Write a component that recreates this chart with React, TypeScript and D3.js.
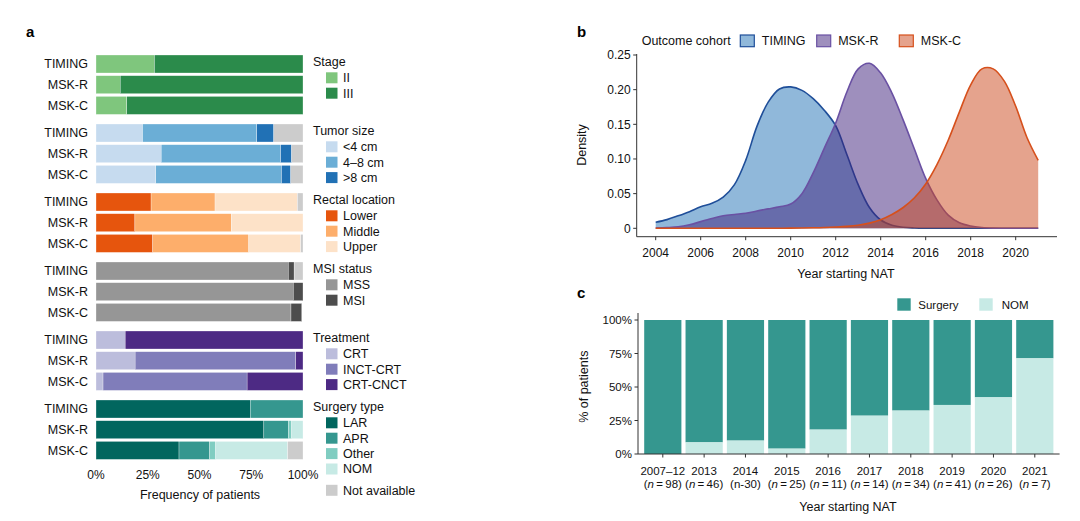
import React from "react";
import * as d3 from "d3";

// ---------- Panel a data ----------
const cohorts = ["TIMING", "MSK-R", "MSK-C"];

const stageKeys = ["II", "III"];
const stageValues = [
  [28.2, 71.8],
  [11.7, 88.3],
  [14.9, 85.1],
];

const tumorKeys = ["<4 cm", "4–8 cm", ">8 cm", "NA"];
const tumorValues = [
  [22.5, 55.2, 8.2, 14.1],
  [31.5, 57.7, 5.3, 5.5],
  [28.9, 60.7, 4.5, 5.9],
];

const rectalKeys = ["Lower", "Middle", "Upper", "NA"];
const rectalValues = [
  [26.6, 30.9, 39.8, 2.7],
  [18.8, 46.5, 34.7, 0],
  [27.4, 46.4, 25.1, 1.1],
];

const msiKeys = ["MSS", "MSI", "NA"];
const msiValues = [
  [92.9, 2.8, 4.3],
  [95.3, 4.7, 0],
  [94.2, 5.2, 0],
];

const treatmentKeys = ["CRT", "INCT-CRT", "CRT-CNCT"];
const treatmentValues = [
  [14.1, 0, 85.9],
  [18.9, 77.6, 3.5],
  [3.4, 69.6, 27.0],
];

const surgeryKeys = ["LAR", "APR", "Other", "NOM", "NA"];
const surgeryValues = [
  [74.5, 25.5, 0, 0, 0],
  [81.1, 11.8, 1.6, 5.5, 0],
  [40.1, 14.8, 2.9, 34.8, 7.4],
];

const groupTitles = ["Stage", "Tumor size", "Rectal location", "MSI status", "Treatment", "Surgery type"];
const freqTicks = [0, 25, 50, 75, 100];

// ---------- Panel b data ----------
const densityYears = [
  2004, 2004.5, 2005, 2005.5, 2006, 2006.5, 2007, 2007.5, 2008, 2008.5, 2009, 2009.5,
  2010, 2010.5, 2011, 2011.5, 2012, 2012.5, 2013, 2013.5, 2014, 2014.5, 2015, 2015.5,
  2016, 2016.5, 2017, 2017.5, 2018, 2018.5, 2019, 2019.5, 2020, 2020.5, 2021,
];
const timingDensity = [
  0.0087, 0.0125, 0.018, 0.024, 0.031, 0.036, 0.045, 0.063, 0.098, 0.147, 0.182, 0.201,
  0.204, 0.199, 0.187, 0.17, 0.148, 0.106, 0.063, 0.03, 0.012, 0.0045, 0.0015, 0.0005,
  0.0001, 0, 0, 0, 0, 0, 0, 0, 0, 0, 0,
];
const mskrDensity = [
  0.0005, 0.001, 0.002, 0.005, 0.0096, 0.014, 0.018, 0.02, 0.0216, 0.025, 0.028, 0.031,
  0.035, 0.05, 0.08, 0.116, 0.152, 0.197, 0.23, 0.238, 0.224, 0.195, 0.156, 0.114,
  0.072, 0.041, 0.019, 0.008, 0.0033, 0.0012, 0.0003, 0, 0, 0, 0,
];
const mskcDensity = [
  0, 0, 0, 0, 0, 0, 0, 0, 0, 0, 0, 0.0001,
  0.0002, 0.0004, 0.0007, 0.0011, 0.0018, 0.0028, 0.0045, 0.0075, 0.0125, 0.02, 0.03, 0.044,
  0.064, 0.092, 0.127, 0.168, 0.207, 0.23, 0.23, 0.212, 0.176, 0.131, 0.098,
];
const yearTicks = [2004, 2006, 2008, 2010, 2012, 2014, 2016, 2018, 2020];
const densityTicks = [0, 0.05, 0.1, 0.15, 0.2, 0.25];

// ---------- Panel c data ----------
const periodLabels = ["2007–12", "2013", "2014", "2015", "2016", "2017", "2018", "2019", "2020", "2021"];
const periodN = ["98", "46", "30", "25", "11", "14", "34", "41", "26", "7"];
const nomPct = [0, 8.7, 10.0, 4.0, 18.2, 28.6, 32.4, 36.6, 42.3, 71.4];
const surgeryPct = [100, 91.3, 90.0, 96.0, 81.8, 71.4, 67.6, 63.4, 57.7, 28.6];
const pctTicks = [0, 25, 50, 75, 100];

// ---------- Styles ----------
const NA_COLOR = "#cccccc";
const palette: Record<string, string> = {
  II: "#7fc67d",
  III: "#2b8b4b",
  "<4 cm": "#c6dbef",
  "4–8 cm": "#6baed6",
  ">8 cm": "#2171b5",
  Lower: "#e6550d",
  Middle: "#fdae6b",
  Upper: "#fde2c8",
  MSS: "#969696",
  MSI: "#4d4d4d",
  CRT: "#bcbddc",
  "INCT-CRT": "#807dba",
  "CRT-CNCT": "#4d2a84",
  LAR: "#01665e",
  APR: "#35978f",
  Other: "#80cdc1",
  NOM: "#c7eae5",
  NA: NA_COLOR,
};
const cohortFill = ["#2171b5", "#3d1f7b", "#cb471b"];
const cohortLine = ["#1f4e99", "#6a51a3", "#d6501c"];
const surgeryC = "#35978f";
const nomC = "#c7eae5";
const AXIS = "#333333";
const TXT = "#111111";
const FONT = "'Liberation Sans', Arial, Helvetica, sans-serif";
const THIN = "\u2009";

const groupKeys = [stageKeys, tumorKeys, rectalKeys, msiKeys, treatmentKeys, surgeryKeys];
const groupValues = [stageValues, tumorValues, rectalValues, msiValues, treatmentValues, surgeryValues];

function PanelA() {
  const x = d3.scaleLinear().domain([0, 100]).range([96, 303]);
  const groupTop = (g: number) => 55 + g * 69;
  const rowStep = 20.7;
  const barH = 18;
  const fs = 12.5;
  const elems: React.ReactNode[] = [];

  groupKeys.forEach((keys, gi) => {
    const rows = groupValues[gi].map((vals, ri) => {
      const o: any = { cohort: cohorts[ri] };
      keys.forEach((k, ki) => (o[k] = vals[ki]));
      return o;
    });
    const series = d3.stack<any>().keys(keys)(rows);
    series.forEach((s) => {
      s.forEach((d, ri) => {
        const w = x(d[1]) - x(d[0]);
        if (w <= 0) return;
        elems.push(
          <rect
            key={`a-${gi}-${s.key}-${ri}`}
            x={x(d[0])}
            y={groupTop(gi) + ri * rowStep}
            width={w}
            height={barH}
            fill={palette[s.key]}
            stroke="#ffffff"
            strokeWidth={0.3}
          />
        );
      });
    });
    cohorts.forEach((c, ri) => {
      elems.push(
        <text
          key={`al-${gi}-${ri}`}
          x={88}
          y={groupTop(gi) + ri * rowStep + barH / 2}
          dy="0.35em"
          textAnchor="end"
          fontSize={fs}
          fill={TXT}
        >
          {c}
        </text>
      );
    });
    const ty = groupTop(gi) + 6.5;
    elems.push(
      <text key={`lt-${gi}`} x={313} y={ty} dy="0.35em" fontSize={fs} fill={TXT}>
        {groupTitles[gi]}
      </text>
    );
    keys
      .filter((k) => k !== "NA")
      .forEach((k, ki) => {
        const cy = ty + 16.3 + ki * 15.4;
        elems.push(
          <g key={`li-${gi}-${k}`}>
            <rect x={326} y={cy - 5.5} width={11.5} height={11} fill={palette[k]} />
            <text x={343} y={cy} dy="0.35em" fontSize={fs} fill={TXT}>
              {k}
            </text>
          </g>
        );
      });
  });
  elems.push(
    <g key="na-leg">
      <rect x={326} y={490.3 - 5.5} width={11.5} height={11} fill={NA_COLOR} />
      <text x={343} y={490.3} dy="0.35em" fontSize={fs} fill={TXT}>
        Not available
      </text>
    </g>
  );
  freqTicks.forEach((t) => {
    elems.push(
      <text key={`ft-${t}`} x={x(t)} y={475} dy="0.35em" textAnchor="middle" fontSize={12} fill={TXT}>
        {t}%
      </text>
    );
  });
  elems.push(
    <text key="ftitle" x={200} y={495} dy="0.35em" textAnchor="middle" fontSize={12.5} fill={TXT}>
      Frequency of patients
    </text>
  );
  elems.push(
    <text key="alab" x={26} y={37} fontSize={15} fontWeight="bold" fill="#000">
      a
    </text>
  );
  return <g>{elems}</g>;
}

function PanelB() {
  const x = d3.scaleLinear().domain([2004, 2021]).range([655.7, 1038.2]);
  const y = d3.scaleLinear().domain([0, 0.25]).range([228.3, 55]);
  const axisX0 = 636.7;
  const axisY = 236.7;
  const series = [timingDensity, mskrDensity, mskcDensity];
  const names = ["TIMING", "MSK-R", "MSK-C"];
  const area = d3
    .area<number>()
    .x((_, i) => x(densityYears[i]))
    .y0(y(0))
    .y1((d) => y(d))
    .curve(d3.curveCatmullRom);
  const line = d3
    .line<number>()
    .x((_, i) => x(densityYears[i]))
    .y((d) => y(d))
    .curve(d3.curveCatmullRom);
  const legX = [740.3, 816.7, 899.3];
  return (
    <g>
      {series.map((s, i) => (
        <g key={`dens-${i}`}>
          <path d={area(s) || ""} fill={cohortFill[i]} fillOpacity={0.5} />
          <path d={line(s) || ""} fill="none" stroke={cohortLine[i]} strokeWidth={1.6} />
        </g>
      ))}
      <line x1={axisX0} x2={axisX0} y1={54} y2={axisY} stroke={AXIS} strokeWidth={1} />
      <line x1={axisX0} x2={1057} y1={axisY} y2={axisY} stroke={AXIS} strokeWidth={1} />
      {densityTicks.map((t) => (
        <g key={`dy-${t}`}>
          <line x1={axisX0 - 3.5} x2={axisX0} y1={y(t)} y2={y(t)} stroke={AXIS} />
          <text x={axisX0 - 6} y={y(t)} dy="0.35em" textAnchor="end" fontSize={12} fill={TXT}>
            {t === 0 ? "0" : d3.format(".2f")(t)}
          </text>
        </g>
      ))}
      {yearTicks.map((t) => (
        <g key={`dx-${t}`}>
          <line x1={x(t)} x2={x(t)} y1={axisY} y2={axisY + 3.5} stroke={AXIS} />
          <text x={x(t)} y={253} dy="0.35em" textAnchor="middle" fontSize={12} fill={TXT}>
            {t}
          </text>
        </g>
      ))}
      <text x={846} y={274} dy="0.35em" textAnchor="middle" fontSize={12.5} fill={TXT}>
        Year starting NAT
      </text>
      <text
        transform={`translate(582,145) rotate(-90)`}
        dy="0.35em"
        textAnchor="middle"
        fontSize={12.5}
        fill={TXT}
      >
        Density
      </text>
      <text x={641.7} y={40.7} dy="0.35em" fontSize={12.5} fill={TXT}>
        Outcome cohort
      </text>
      {names.map((n, i) => (
        <g key={`bl-${i}`}>
          <rect x={legX[i]} y={35} width={14} height={11.7} fill="#ffffff" />
          <rect
            x={legX[i]}
            y={35}
            width={14}
            height={11.7}
            fill={cohortFill[i]}
            fillOpacity={0.5}
            stroke={cohortLine[i]}
            strokeWidth={1.2}
          />
          <text x={legX[i] + 21.5} y={40.7} dy="0.35em" fontSize={12.5} fill={TXT}>
            {n}
          </text>
        </g>
      ))}
      <text x={577} y={37} fontSize={15} fontWeight="bold" fill="#000">
        b
      </text>
    </g>
  );
}

function PanelC() {
  const x = d3
    .scaleBand<string>()
    .domain(periodLabels)
    .range([638, 1059.6])
    .paddingInner(0.1)
    .paddingOuter(0.15);
  const y = d3.scaleLinear().domain([0, 100]).range([454, 320]);
  const axisX0 = 638;
  const axisY = 454;
  return (
    <g>
      {periodLabels.map((p, i) => (
        <g key={`cb-${p}`}>
          <rect
            x={x(p)!}
            y={y(nomPct[i] + surgeryPct[i])}
            width={x.bandwidth()}
            height={y(nomPct[i]) - y(nomPct[i] + surgeryPct[i])}
            fill={surgeryC}
          />
          {nomPct[i] > 0 && (
            <rect
              x={x(p)!}
              y={y(nomPct[i])}
              width={x.bandwidth()}
              height={y(0) - y(nomPct[i])}
              fill={nomC}
            />
          )}
        </g>
      ))}
      <line x1={axisX0} x2={axisX0} y1={313} y2={axisY} stroke={AXIS} />
      <line x1={axisX0} x2={1059.6} y1={axisY} y2={axisY} stroke={AXIS} />
      {pctTicks.map((t) => (
        <g key={`cy-${t}`}>
          <line x1={axisX0 - 3.5} x2={axisX0} y1={y(t)} y2={y(t)} stroke={AXIS} />
          <text x={axisX0 - 6} y={y(t)} dy="0.35em" textAnchor="end" fontSize={11.5} fill={TXT}>
            {t}%
          </text>
        </g>
      ))}
      {periodLabels.map((p, i) => {
        const cx = x(p)! + x.bandwidth() / 2;
        return (
          <g key={`cx-${p}`}>
            <line x1={cx} x2={cx} y1={axisY} y2={axisY + 3.5} stroke={AXIS} />
            <text x={cx} y={470.7} dy="0.35em" textAnchor="middle" fontSize={11.5} fill={TXT}>
              {p}
            </text>
            <text x={cx} y={483.5} dy="0.35em" textAnchor="middle" fontSize={11.5} fill={TXT}>
              {p === "2014" ? (
                <>({"n-" + periodN[i]})</>
              ) : (
                <>
                  (<tspan fontStyle="italic">n</tspan>
                  {THIN + "=" + THIN + periodN[i] + ")"}
                </>
              )}
            </text>
          </g>
        );
      })}
      <text x={848} y={506.7} dy="0.35em" textAnchor="middle" fontSize={12.5} fill={TXT}>
        Year starting NAT
      </text>
      <text
        transform={`translate(584,386.7) rotate(-90)`}
        dy="0.35em"
        textAnchor="middle"
        fontSize={12.5}
        fill={TXT}
      >
        % of patients
      </text>
      <rect x={897.3} y={298.3} width={13.4} height={12.4} fill={surgeryC} />
      <text x={918.3} y={305} dy="0.35em" fontSize={11.5} fill={TXT}>
        Surgery
      </text>
      <rect x={979.3} y={298.3} width={13.4} height={12.4} fill={nomC} />
      <text x={1001.7} y={305} dy="0.35em" fontSize={11.5} fill={TXT}>
        NOM
      </text>
      <text x={577} y={298} fontSize={15} fontWeight="bold" fill="#000">
        c
      </text>
    </g>
  );
}

export default function App() {
  return (
    <svg
      width={1080}
      height={521}
      viewBox="0 0 1080 521"
      style={{ position: "fixed", left: 0, top: 0, background: "#ffffff" }}
      fontFamily={FONT}
    >
      <rect width={1080} height={521} fill="#ffffff" />
      <PanelA />
      <PanelB />
      <PanelC />
    </svg>
  );
}
